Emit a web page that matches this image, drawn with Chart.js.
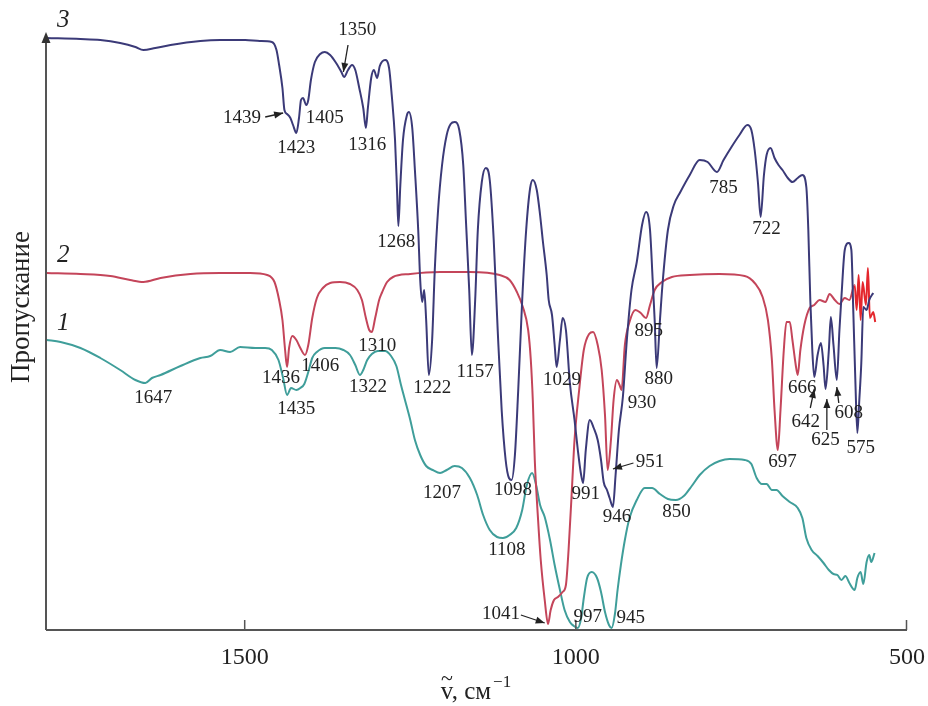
<!DOCTYPE html>
<html>
<head>
<meta charset="utf-8">
<script src="https://cdn.jsdelivr.net/npm/chart.js@4/dist/chart.umd.min.js"></script>
<style>
  body { margin: 0; background: #fff; }
  #wrap { width: 928px; height: 706px; }
</style>
</head>
<body>
<div id="wrap"><canvas id="spectra" width="928" height="706"></canvas></div>
<script>
// wavenumbers (cm-1) and transmittance (arbitrary units)
const wn3 = [1799,1748,1718,1688,1665,1653,1635,1612,1567,1537, 1499,1477,1459,1452,1448,1443,1440,1436,1431,1427,
  1422,1418,1415,1412,1407,1404,1400,1394,1386,1379, 1371,1362,1354,1350,1344,1338,1333,1327,1321,1317,
  1314,1309,1305,1300,1296,1288,1282,1278,1273,1270, 1268,1265,1261,1255,1252,1247,1243,1238,1235,1232,
  1229,1226,1222,1217,1213,1208,1202,1195,1189,1183, 1176,1170,1166,1161,1157,1152,1148,1142,1136,1130,
  1124,1118,1112,1106,1101,1097,1092,1087,1081,1075, 1069,1065,1059,1054,1050,1044,1041,1036,1032,1029,
  1024,1020,1015,1009,1002,997,992,989,985,979, 973,967,962,958,953,949,944,940,935,929,
  923,916,908,900,894,888,884,881,878,873, 869,861,852,843,828,813,801,787,777,765,
  753,741,735,730,725,721,716,712,706,700, 694,688,680,673,665,658,652,649,646,643,
  640,635,630,626,623,618,615,611,606,602, 599,594,588,584,581,578,575,572,569,566,
  561,557,551];
const tr3 = [592,591,590,587,583,580,582,585,589,590, 590,589,588,580,565,542,520,516,512,505,
  497,512,530,532,525,530,550,568,576,578, 575,567,558,553,560,565,560,542,522,502,
  522,552,560,552,564,570,562,535,490,440, 404,445,490,515,518,502,460,400,350,328,
  340,310,255,290,360,420,465,495,506,508, 500,465,410,340,275,330,400,448,462,450,
  390,300,220,170,152,150,175,240,330,400, 442,450,440,415,390,355,330,315,285,263,
  290,312,300,247,210,180,155,147,180,210, 202,190,170,148,140,132,123,155,200,233,
  290,340,368,405,418,400,350,310,262,310, 347,400,425,437,455,470,468,458,470,483,
  495,505,500,480,447,413,455,475,482,472, 465,460,452,448,452,455,443,400,330,280,
  253,275,287,265,241,280,313,285,250,300, 333,380,387,380,317,250,197,230,267,323,
  320,330,337];

const wn2 = [1799,1748,1703,1673,1653,1627,1582,1537,1492,1466, 1455,1448,1443,1439,1436,1433,1428,1422,1416,1409,
  1404,1398,1391,1382,1371,1356,1341,1330,1323,1317, 1312,1308,1303,1297,1293,1285,1276,1250,1205,1160,
  1115,1100,1089,1080,1072,1068,1065,1062,1057,1053, 1047,1042,1038,1033,1027,1020,1015,1011,1006,1002,
  995,988,980,974,967,961,956,952,947,943, 938,934,931,926,919,910,902,894,888,881,
  870,855,828,783,745,730,718,710,704,700, 695,691,686,682,677,673,668,665,661,655,
  647,640,632,623,617,609,602,594,587,579, 576,573,570,567,562,559,556,551,548];
const tr2 = [357,356,354,350,348,352,356,357,357,355, 348,330,310,280,263,282,294,290,282,275,
  285,312,332,342,347,348,346,340,330,312, 300,298,312,330,337,348,353,356,358,358,
  355,350,338,323,300,270,230,170,110,70, 30,6,20,30,33,38,45,80,140,190,
  240,280,296,298,285,260,215,160,190,230, 250,245,240,285,308,320,317,312,325,340,
  348,353,355,356,354,347,333,310,270,220, 180,220,280,308,308,290,265,255,280,305,
  322,325,330,328,336,330,326,332,330,345, 320,355,310,348,325,362,312,318,308];

const wn1 = [1799,1778,1748,1718,1688,1665,1650,1640,1627,1597, 1567,1552,1537,1522,1507,1484,1469,1459,1449,1442,
  1436,1430,1422,1416,1410,1404,1398,1391,1379,1363, 1351,1341,1333,1326,1321,1315,1308,1299,1288,1279,
  1271,1264,1258,1250,1243,1235,1226,1216,1205,1195, 1183,1172,1160,1149,1140,1130,1119,1110,1100,1090,
  1081,1074,1066,1060,1054,1047,1039,1032,1024,1017, 1009,1003,997,992,988,983,976,968,962,956,
  950,946,941,937,932,926,919,908,896,885, 873,861,849,837,825,813,798,783,768,745,
  735,727,719,712,704,697,688,677,665,658, 652,644,635,626,618,611,605,599,593,587,
  579,575,570,566,561,557,554,549];
const tr1 = [290,288,282,272,260,250,247,252,255,264, 272,274,280,278,283,282,282,280,270,252,
  235,242,240,242,246,258,272,278,282,282, 280,275,265,255,260,270,276,279,279,274,
  264,245,230,210,190,175,164,160,157,160, 164,162,152,135,115,100,93,92,95,102,
  120,145,157,145,125,113,90,65,40,20, 8,4,2,12,32,52,58,52,38,18,
  5,2,16,40,65,90,112,130,142,142, 136,131,130,134,144,155,164,169,171,170,
  166,152,146,146,140,140,134,128,122,112, 92,80,74,67,60,56,55,50,54,47,
  40,52,58,46,68,75,68,77];

const xTicks = [1500, 1000, 500];

// peak labels: text and where the label sits (data units)
const peakText = ['1350','1439','1405','1423','1316','1268','1222','1157','1029','895',
  '880','930','1310','1436','1406','1435','1322','1647','1207','1098',
  '1108','991','946','951','850','1041','997','945','785','722',
  '697','666','642','625','608','575'];
const peakX = [1330,1504,1379,1422,1315,1271,1217,1152,1021,890,
  875,900,1300,1445,1386,1422,1314,1638,1202,1095,
  1104,985,938,888,848,1113,982,917,777,712,
  688,658,653,623,588,570];
const peakY = [600,512,512,482,485,388,242,258,250,299,
  251,227,284,252,264,221,243,232,137,140,
  80,136,113,168,118,16,13,12,442,401,
  168,242,208,190,217,182];

// pointer arrows: [fromX, fromY, toX, toY]
const pointers = [
  [1344, 585, 1351, 558],
  [1469, 513, 1442, 517],
  [913, 167, 944, 161],
  [1083, 15, 1047, 7],
  [646, 222, 640, 241],
  [621, 200, 621, 231],
  [603, 227, 606, 243],
];

const curveNames = ['3', '2', '1'];
const curveNameY = [610, 375, 307];
const curveNameX = 1774;

const serif = '"Liberation Serif", "Times New Roman", serif';

function toPoints(xs, ys) {
  return xs.map((x, i) => ({ x: x, y: ys[i] }));
}

function arrowHead(ctx, x0, y0, x1, y1, len, half) {
  const a = Math.atan2(y1 - y0, x1 - x0);
  ctx.beginPath();
  ctx.moveTo(x1, y1);
  ctx.lineTo(x1 - len * Math.cos(a) + half * Math.sin(a), y1 - len * Math.sin(a) - half * Math.cos(a));
  ctx.lineTo(x1 - len * Math.cos(a) - half * Math.sin(a), y1 - len * Math.sin(a) + half * Math.cos(a));
  ctx.closePath();
  ctx.fill();
}

const overlay = {
  id: "overlay",
  afterDraw(chart) {
    const { ctx, chartArea: a } = chart;
    const x = chart.scales.x;
    const y = chart.scales.y;
    ctx.save();

    // axes
    ctx.strokeStyle = "#555";
    ctx.fillStyle = "#333";
    ctx.lineWidth = 2;
    ctx.beginPath();
    ctx.moveTo(a.left, a.bottom);
    ctx.lineTo(a.right, a.bottom);
    ctx.moveTo(a.left, a.bottom);
    ctx.lineTo(a.left, a.top + 6);
    ctx.stroke();
    arrowHead(ctx, a.left, a.top + 20, a.left, a.top - 3, 11, 4.5);

    ctx.lineWidth = 1.5;
    ctx.beginPath();
    for (const t of xTicks) {
      const px = Math.min(x.getPixelForValue(t), a.right - 0.5);
      ctx.moveTo(px, a.bottom);
      ctx.lineTo(px, a.bottom - 10);
    }
    ctx.stroke();

    // peak labels
    ctx.fillStyle = "#222";
    ctx.font = "19px " + serif;
    ctx.textAlign = "center";
    ctx.textBaseline = "middle";
    peakText.forEach((t, i) => {
      ctx.fillText(t, x.getPixelForValue(peakX[i]), y.getPixelForValue(peakY[i]));
    });

    // pointer arrows
    ctx.strokeStyle = "#222";
    ctx.fillStyle = "#222";
    ctx.lineWidth = 1.3;
    for (const p of pointers) {
      const x0 = x.getPixelForValue(p[0]), y0 = y.getPixelForValue(p[1]);
      const x1 = x.getPixelForValue(p[2]), y1 = y.getPixelForValue(p[3]);
      ctx.beginPath();
      ctx.moveTo(x0, y0);
      ctx.lineTo(x1, y1);
      ctx.stroke();
      arrowHead(ctx, x0, y0, x1, y1, 9, 3.5);
    }

    // curve numbers
    ctx.font = "italic 25px " + serif;
    curveNames.forEach((n, i) => {
      ctx.fillText(n, x.getPixelForValue(curveNameX), y.getPixelForValue(curveNameY[i]));
    });

    // y title
    ctx.save();
    ctx.translate(22, 307);
    ctx.rotate(-Math.PI / 2);
    ctx.font = "27px " + serif;
    ctx.fillText("Пропускание", 0, 0);
    ctx.restore();

    // x title: v with tilde, cm^-1
    ctx.font = "25px " + serif;
    ctx.textAlign = "left";
    ctx.textBaseline = "alphabetic";
    const main = "v, см";
    const w = ctx.measureText(main).width;
    ctx.font = "17px " + serif;
    const sw = ctx.measureText("\u22121").width;
    const sx = 476 - (w + sw + 2) / 2;
    ctx.font = "25px " + serif;
    ctx.fillText(main, sx, 699);
    const vw = ctx.measureText("v").width;
    ctx.font = "22px " + serif;
    ctx.textAlign = "center";
    ctx.fillText("~", sx + vw / 2, 685);
    ctx.textAlign = "left";
    ctx.font = "17px " + serif;
    ctx.fillText("\u22121", sx + w + 2, 687);

    ctx.restore();
  },
};

const ctx = document.getElementById("spectra").getContext("2d");
new Chart(ctx, {
  type: "line",
  data: {
    datasets: [
      { label: "3", data: toPoints(wn3, tr3), borderColor: "#3b3a78" },
      {
        label: "2",
        data: toPoints(wn2, tr2),
        borderColor: "#c4455a",
        segment: { borderColor: (c) => (c.p0.parsed.x < 582 ? "#e4262c" : undefined) },
      },
      { label: "1", data: toPoints(wn1, tr1), borderColor: "#3f9e9a" },
    ],
  },
  options: {
    responsive: false,
    animation: false,
    elements: {
      point: { radius: 0 },
      line: { borderWidth: 2, cubicInterpolationMode: "monotone", borderJoinStyle: "round" },
    },
    layout: { padding: { left: 46, right: 21, top: 35, bottom: 0 } },
    plugins: { legend: { display: false }, tooltip: { enabled: false } },
    scales: {
      x: {
        type: "linear",
        reverse: true,
        min: 500,
        max: 1800,
        afterBuildTicks: (s) => {
          s.ticks = xTicks.map((v) => ({ value: v }));
        },
        afterFit: (s) => {
          s.height = 76;
          s.paddingLeft = 0;
          s.paddingRight = 0;
        },
        grid: { display: false, drawTicks: false },
        border: { display: false },
        ticks: {
          padding: 13,
          color: "#222",
          maxRotation: 0,
          autoSkip: false,
          font: { family: serif, size: 24 },
          callback: (v) => String(v),
        },
      },
      y: { display: false, min: 0, max: 595 },
    },
  },
  plugins: [overlay],
});
</script>
</body>
</html>
